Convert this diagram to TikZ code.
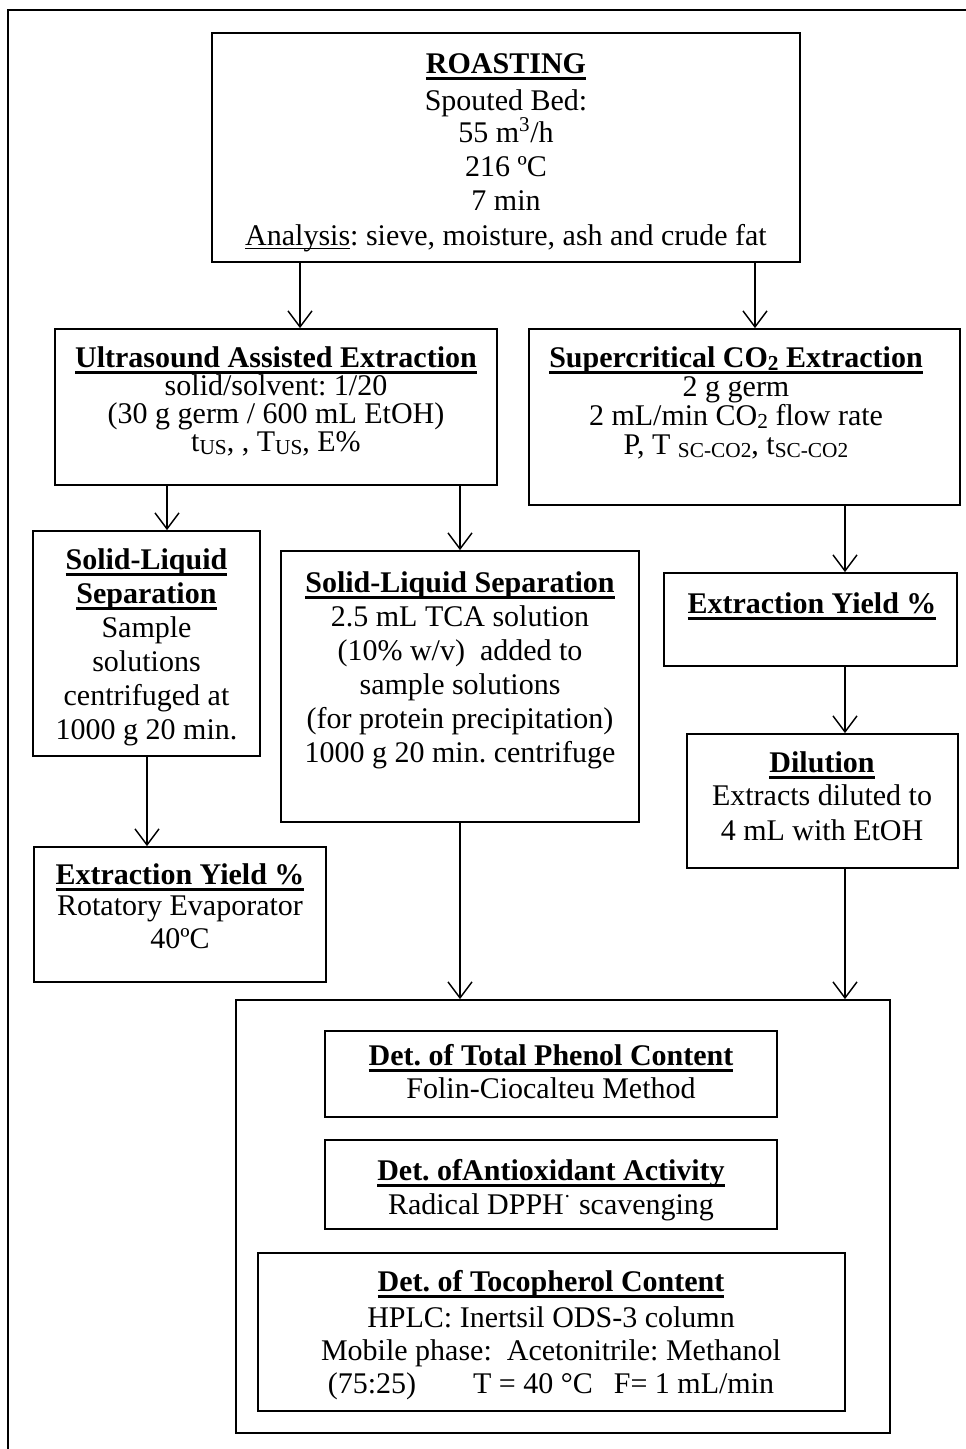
\documentclass[tikz,border=0pt]{standalone}
\usepackage{fontspec}
\setmainfont{Liberation Serif}
\usetikzlibrary{arrows.meta}
\frenchspacing
\newcommand\fs{\fontsize{22.5}{25}\selectfont}
\newcommand\hd[1]{\setbox0\hbox{\bfseries #1}\rlap{\rule[-5pt]{\wd0}{2pt}}\box0}
\newcommand\ulthin[1]{\setbox0\hbox{#1}\rlap{\rule[-3.2pt]{\wd0}{1pt}}\box0}
\newcommand\sbs[1]{\raisebox{-2.6pt}{\fontsize{16}{16}\selectfont #1}}
\tikzset{
  box/.style 2 args={draw, line width=1.3pt, minimum width=#1*0.75pt, minimum height=#2*0.75pt, inner sep=0pt},
  tx/.style={anchor=base, inner sep=0pt, font=\fs},
  arr/.style={line width=1.1pt, -{Straight Barb[length=12pt,width=18pt,line width=1.1pt]}},
  frame/.style={line width=1.3pt}
}
\begin{document}
\begin{tikzpicture}[x=0.75pt,y=-0.75pt]
\useasboundingbox (0,0) rectangle (966,1449);
\draw[frame] (8,1449) -- (8,10) -- (966,10);
% boxes
\node[box={588}{229}] (roast) at (506,147.5) {};
\node[box={442}{156}] (uae) at (276,407) {};
\node[box={431}{176}] (sc) at (744.5,417) {};
\node[box={227}{225}] (lsl) at (146.5,643.5) {};
\node[box={358}{271}] (msl) at (460,686.5) {};
\node[box={293}{93}] (rey) at (810.5,619.5) {};
\node[box={271}{134}] (dil) at (822.5,801) {};
\node[box={292}{135}] (ley) at (180,914.5) {};
\node[box={654}{433}] (big) at (563,1216.5) {};
\node[box={452}{86}] (phe) at (551,1074) {};
\node[box={452}{89}] (ant) at (551,1184.5) {};
\node[box={587}{158}] (toc) at (551.5,1332) {};
% texts
\node[tx] (r1) at (506,73) {\hd{ROASTING}};
\node[tx] (r2) at (506,110) {Spouted Bed:};
\node[tx] (r3) at (506,142) {55 m\textsuperscript{3}/h};
\node[tx] (r4) at (506,176) {216 ºC};
\node[tx] (r5) at (506,210) {7 min};
\node[tx] (r6) at (506,245) {\ulthin{Analysis}: sieve, moisture, ash and crude fat};
\node[tx] (u1) at (276,367) {\hd{Ultrasound Assisted Extraction}};
\node[tx] (u2) at (276,395) {solid/solvent: 1/20};
\node[tx] (u3) at (276,423) {(30 g germ / 600 mL EtOH)};
\node[tx] (u4) at (276,451) {t\sbs{US}, , T\sbs{US}, E\%};
\node[tx] (s1) at (736,367) {\hd{Supercritical CO\sbs{2} Extraction}};
\node[tx] (s2) at (736,396) {2 g germ};
\node[tx] (s3) at (736,425) {2 mL/min CO\sbs{2} flow rate};
\node[tx] (s4) at (736,454) {P, T \sbs{SC-CO2}, t\sbs{SC-CO2}};
\node[tx] (l1) at (146.5,569) {\hd{Solid-Liquid}};
\node[tx] (l2) at (146.5,603) {\hd{Separation}};
\node[tx] (l3) at (146.5,637) {Sample};
\node[tx] (l4) at (146.5,671) {solutions};
\node[tx] (l5) at (146.5,705) {centrifuged at};
\node[tx] (l6) at (146.5,739) {1000 g 20 min.};
\node[tx] (m1) at (460,592) {\hd{Solid-Liquid Separation}};
\node[tx] (m2) at (460,626) {2.5 mL TCA solution};
\node[tx] (m3) at (460,660) {(10\% w/v)\ \ added to};
\node[tx] (m4) at (460,694) {sample solutions};
\node[tx] (m5) at (460,728) {(for protein precipitation)};
\node[tx] (m6) at (460,762) {1000 g 20 min. centrifuge};
\node[tx] (e1) at (812,613) {\hd{Extraction Yield \%}};
\node[tx] (d1) at (822,772) {\hd{Dilution}};
\node[tx] (d2) at (822,805) {Extracts diluted to};
\node[tx] (d3) at (822,840) {4 mL with EtOH};
\node[tx] (y1) at (180,884) {\hd{Extraction Yield \%}};
\node[tx] (y2) at (180,915) {Rotatory Evaporator};
\node[tx] (y3) at (180,948) {40ºC};
\node[tx] (p1) at (551,1065) {\hd{Det. of Total Phenol Content}};
\node[tx] (p2) at (551,1098) {Folin-Ciocalteu Method};
\node[tx] (a1) at (551,1180) {\hd{Det. ofAntioxidant Activity}};
\node[tx] (a2) at (551,1214) {Radical DPPH\textsuperscript{·}\ scavenging};
\node[tx] (t1) at (551,1291) {\hd{Det. of Tocopherol Content}};
\node[tx] (t2) at (551,1327) {HPLC: Inertsil ODS-3 column};
\node[tx] (t3) at (551,1360) {Mobile phase:\ \ Acetonitrile: Methanol};
\node[tx] (t4) at (551,1393) {(75:25)\hspace{1.9em}T = 40 °C\hspace{0.7em}F= 1 mL/min};
% arrow columns
\coordinate (c1) at (300,0);
\coordinate (c2) at (755,0);
\coordinate (c3) at (167,0);
\coordinate (c4) at (460,0);
\coordinate (c5) at (845,0);
\coordinate (c6) at (147,0);
\draw[arr] (roast.south -| c1) -- (uae.north -| c1);
\draw[arr] (roast.south -| c2) -- (sc.north -| c2);
\draw[arr] (uae.south -| c3) -- (lsl.north -| c3);
\draw[arr] (uae.south -| c4) -- (msl.north -| c4);
\draw[arr] (sc.south -| c5) -- (rey.north -| c5);
\draw[arr] (lsl.south -| c6) -- (ley.north -| c6);
\draw[arr] (msl.south -| c4) -- (big.north -| c4);
\draw[arr] (rey.south -| c5) -- (dil.north -| c5);
\draw[arr] (dil.south -| c5) -- (big.north -| c5);
\end{tikzpicture}
\end{document}
